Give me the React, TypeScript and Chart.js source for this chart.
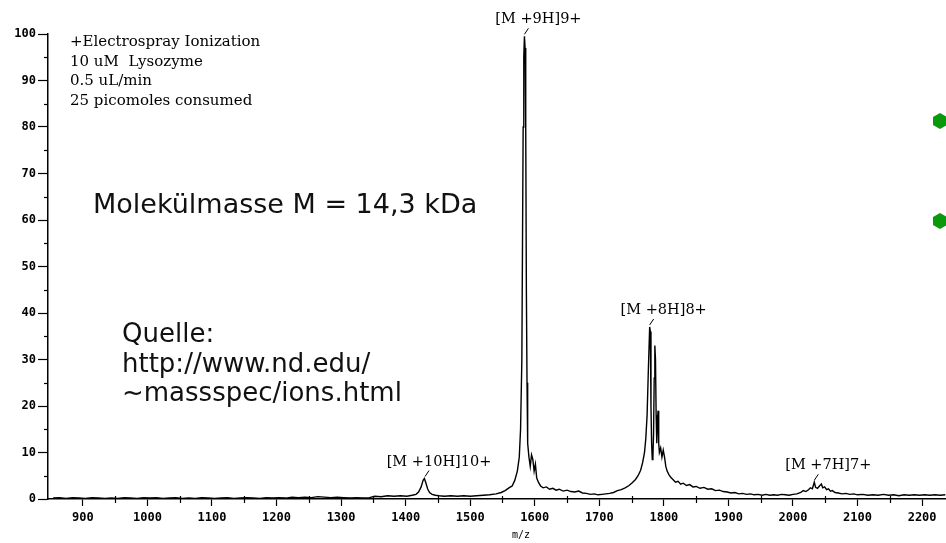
import React, { useEffect, useRef } from 'react';
import { Chart, registerables } from 'chart.js';

Chart.register(...registerables);

// m/z values and relative intensities (%)
const mzValues = [
  854, 864, 874, 884, 894, 904, 914, 924, 934, 944, 954, 964, 974, 984, 994,
  1004, 1014, 1024, 1034, 1044, 1054, 1064, 1074, 1084, 1094, 1104, 1114, 1124, 1134, 1144,
  1154, 1164, 1174, 1184, 1194, 1204, 1214, 1224, 1234, 1244, 1254, 1264, 1274, 1284, 1294,
  1304, 1314, 1324, 1334, 1344, 1352, 1362, 1372, 1382, 1392, 1402, 1410, 1416, 1420, 1424,
  1427, 1429, 1431, 1434, 1437, 1441, 1446, 1452, 1460, 1470, 1480, 1490, 1500, 1510, 1520,
  1530, 1540, 1548, 1554, 1560, 1565, 1569, 1573, 1576, 1578, 1580, 1581, 1582, 1583, 1584,
  1585, 1586, 1587, 1588, 1589, 1591, 1593, 1595, 1597, 1599, 1601, 1603, 1606, 1609, 1613,
  1618, 1623, 1628, 1633, 1638, 1644, 1650, 1656, 1662, 1668, 1674, 1680, 1686, 1692, 1698,
  1704, 1710, 1716, 1722, 1728, 1734, 1740, 1746, 1751, 1756, 1760, 1764, 1767, 1770, 1772,
  1774, 1776, 1778, 1779, 1780, 1781, 1782, 1783, 1784, 1785, 1786, 1787, 1788, 1789, 1790,
  1791, 1792, 1793, 1795, 1797, 1799, 1801, 1803, 1805, 1808, 1811, 1814, 1818, 1822, 1826,
  1830, 1835, 1840, 1845, 1850, 1856, 1862, 1868, 1874, 1880, 1886, 1892, 1898, 1904, 1910,
  1916, 1922, 1928, 1934, 1940, 1946, 1952, 1958, 1964, 1970, 1976, 1982, 1988, 1994, 2000,
  2006, 2012, 2016, 2020, 2024, 2027, 2030, 2033, 2035, 2038, 2041, 2044, 2046, 2049, 2052,
  2055, 2058, 2061, 2065, 2070, 2076, 2082, 2088, 2094, 2100, 2108, 2116, 2124, 2132, 2140,
  2148, 2156, 2164, 2172, 2180, 2188, 2196, 2204, 2212, 2220, 2228, 2236,
];

const intensityValues = [
  0.2, 0.3, 0.1, 0.3, 0.2, 0.1, 0.3, 0.2, 0.1, 0.2, 0.1, 0.3, 0.2, 0.1, 0.3,
  0.2, 0.3, 0.1, 0.2, 0.3, 0.1, 0.2, 0.1, 0.3, 0.2, 0.1, 0.2, 0.3, 0.1, 0.2,
  0.3, 0.2, 0.1, 0.3, 0.2, 0.3, 0.2, 0.4, 0.3, 0.4, 0.3, 0.5, 0.4, 0.3, 0.4,
  0.3, 0.2, 0.3, 0.2, 0.3, 0.6, 0.5, 0.7, 0.6, 0.7, 0.6, 0.8, 1.0, 1.5, 2.6,
  4.0, 4.4, 3.6, 2.2, 1.4, 1.0, 0.8, 0.7, 0.6, 0.7, 0.6, 0.7, 0.6, 0.7, 0.8,
  0.9, 1.1, 1.4, 1.8, 2.4, 2.8, 4.0, 6.0, 9.0, 15, 30, 55, 80, 95, 99.5,
  97, 80, 45, 25, 12, 9, 7, 9.5, 8.5, 6, 7.5, 4.5, 3.5, 2.8, 2.4,
  2.6, 2.1, 2.3, 1.9, 2.1, 1.7, 1.9, 1.6, 1.5, 1.7, 1.3, 1.2, 1.0, 1.1, 0.9,
  1.0, 1.1, 1.2, 1.4, 1.8, 2.0, 2.4, 2.9, 3.5, 4.2, 5.0, 6.2, 7.8, 10, 13,
  18, 28, 37, 36, 20, 12, 8.5, 9, 14, 26, 33, 30, 18, 12, 17,
  19, 12, 10, 11, 9, 10.5, 9, 7, 6, 5.2, 4.6, 4.2, 3.6, 3.8, 3.2,
  3.4, 2.9, 3.1, 2.6, 2.7, 2.3, 2.5, 2.1, 2.2, 1.8, 1.9, 1.6, 1.5, 1.3, 1.4,
  1.1, 1.2, 1.0, 1.1, 0.9, 1.0, 0.8, 1.0, 0.8, 0.9, 0.8, 1.0, 0.9, 0.8, 1.0,
  1.1, 1.4, 1.8, 1.6, 2.0, 2.4, 2.2, 3.6, 2.5, 2.3, 2.8, 3.2, 2.4, 2.6, 2.0,
  2.2, 1.7, 1.8, 1.4, 1.3, 1.1, 1.2, 1.0, 1.1, 0.9, 1.0, 0.8, 0.9, 0.8, 1.0,
  0.8, 0.9, 0.7, 0.9, 0.8, 0.9, 0.8, 0.9, 0.8, 0.9, 0.8, 0.9,
];

const xTickValues = [900, 1000, 1100, 1200, 1300, 1400, 1500, 1600, 1700, 1800, 1900, 2000, 2100, 2200];
const xMinorTicks = [950, 1050, 1150, 1250, 1350, 1450, 1550, 1650, 1750, 1850, 1950, 2050, 2150];
const yTickValues = [0, 10, 20, 30, 40, 50, 60, 70, 80, 90, 100];
const yMinorTicks = [5, 15, 25, 35, 45, 55, 65, 75, 85, 95];

const peakNames = ['[M +10H]10+', '[M +9H]9+', '[M +8H]8+', '[M +7H]7+'];
const peakMz = [1430, 1584, 1778, 2033];
const peakTop = [4.4, 99.5, 37, 3.6];

const infoLines = ['+Electrospray Ionization', '10 uM  Lysozyme', '0.5 uL/min', '25 picomoles consumed'];
const massText = 'Molekülmasse M = 14,3 kDa';
const sourceLines = ['Quelle:', 'http://www.nd.edu/', '~massspec/ions.html'];

const tickFont = { family: 'DejaVu Sans Mono', size: 12, weight: 'bold' as const };

const overlayPlugin = {
  id: 'overlay',
  afterDraw(chart: any) {
    const { ctx, chartArea } = chart;
    const x = chart.scales.x;
    const y = chart.scales.y;
    ctx.save();
    ctx.strokeStyle = '#000';
    ctx.lineWidth = 1.2;
    xMinorTicks.forEach((v) => {
      const px = Math.round(x.getPixelForValue(v)) + 0.5;
      ctx.beginPath();
      ctx.moveTo(px, chartArea.bottom - 3);
      ctx.lineTo(px, chartArea.bottom + 4);
      ctx.stroke();
    });
    yMinorTicks.forEach((v) => {
      const py = Math.round(y.getPixelForValue(v)) + 0.5;
      ctx.beginPath();
      ctx.moveTo(chartArea.left - 4, py);
      ctx.lineTo(chartArea.left, py);
      ctx.stroke();
    });
    // peak annotations
    ctx.fillStyle = '#000';
    ctx.font = '14.5px "DejaVu Serif"';
    ctx.textAlign = 'center';
    ctx.textBaseline = 'alphabetic';
    ctx.lineWidth = 1;
    peakNames.forEach((name, i) => {
      const px = x.getPixelForValue(peakMz[i]);
      const py = y.getPixelForValue(peakTop[i]);
      const tb = py - 2;
      const tt = tb - 6;
      ctx.beginPath();
      ctx.moveTo(px, tb);
      ctx.lineTo(px + 4, tt);
      ctx.stroke();
      ctx.fillText(name, px + 14, tt - 5);
    });
    ctx.restore();
  },
};

function Hexagon({ left, top }: { left: number; top: number }) {
  return (
    <div
      style={{
        position: 'absolute',
        left,
        top,
        width: 14,
        height: 16,
        background: '#0a990a',
        clipPath: 'polygon(50% 0%, 100% 25%, 100% 75%, 50% 100%, 0% 75%, 0% 25%)',
      }}
    />
  );
}

export default function App() {
  const canvasRef = useRef<HTMLCanvasElement | null>(null);

  useEffect(() => {
    if (!canvasRef.current) return;
    const chart = new Chart(canvasRef.current, {
      type: 'line',
      data: {
        datasets: [
          {
            data: mzValues.map((m, i) => ({ x: m, y: intensityValues[i] })),
            borderColor: '#000',
            borderWidth: 1.4,
            pointRadius: 0,
            tension: 0,
            fill: false,
          },
        ],
      },
      options: {
        animation: false,
        responsive: false,
        maintainAspectRatio: false,
        layout: { padding: { top: 34, right: 0, bottom: 0, left: 0 } },
        plugins: { legend: { display: false }, tooltip: { enabled: false }, title: { display: false } },
        scales: {
          x: {
            type: 'linear',
            min: 846,
            max: 2237,
            afterBuildTicks: (scale: any) => {
              scale.ticks = xTickValues.map((v) => ({ value: v }));
            },
            afterFit: (scale: any) => {
              scale.height = 44;
            },
            grid: { drawOnChartArea: false, color: '#000', tickLength: 7, tickWidth: 1.2 },
            border: { display: true, color: '#000', width: 1.5 },
            ticks: {
              autoSkip: false,
              maxRotation: 0,
              padding: 5,
              color: '#000',
              font: tickFont,
              callback: (v: any) => String(v),
            },
            title: { display: false },
          },
          y: {
            type: 'linear',
            min: 0,
            max: 100,
            afterBuildTicks: (scale: any) => {
              scale.ticks = yTickValues.map((v) => ({ value: v }));
            },
            afterFit: (scale: any) => {
              scale.width = 48;
            },
            grid: { drawOnChartArea: false, color: '#000', tickLength: 10, tickWidth: 1.2 },
            border: { display: true, color: '#000', width: 1.5 },
            ticks: {
              autoSkip: false,
              padding: 2,
              color: '#000',
              font: tickFont,
              callback: (v: any) => String(v),
            },
          },
        },
      },
      plugins: [overlayPlugin],
    });
    return () => chart.destroy();
  }, []);

  return (
    <div style={{ position: 'absolute', left: 0, top: 0, width: 946, height: 543, background: '#fff', overflow: 'hidden' }}>
      <canvas ref={canvasRef} width={946} height={543} style={{ position: 'absolute', left: 0, top: 0 }} />
      <div
        style={{
          position: 'absolute',
          left: 70,
          top: 32,
          fontFamily: '"DejaVu Serif", serif',
          fontSize: 15,
          lineHeight: '19.7px',
          color: '#000',
          whiteSpace: 'pre',
        }}
      >
        {infoLines.map((l, i) => (
          <div key={i}>{l}</div>
        ))}
      </div>
      <div
        style={{
          position: 'absolute',
          left: 93,
          top: 190,
          fontFamily: '"DejaVu Sans", sans-serif',
          fontSize: 27,
          lineHeight: '27px',
          color: '#111',
          whiteSpace: 'pre',
        }}
      >
        {massText}
      </div>
      <div
        style={{
          position: 'absolute',
          left: 122,
          top: 319,
          fontFamily: '"DejaVu Sans", sans-serif',
          fontSize: 26,
          lineHeight: '29.5px',
          color: '#111',
          whiteSpace: 'pre',
        }}
      >
        {sourceLines.map((l, i) => (
          <div key={i}>{l}</div>
        ))}
      </div>
      <div
        style={{
          position: 'absolute',
          left: 512,
          top: 529,
          fontFamily: '"DejaVu Sans Mono", monospace',
          fontSize: 10,
          lineHeight: '12px',
          color: '#000',
        }}
      >
        m/z
      </div>
      <Hexagon left={933} top={113} />
      <Hexagon left={933} top={213} />
    </div>
  );
}
